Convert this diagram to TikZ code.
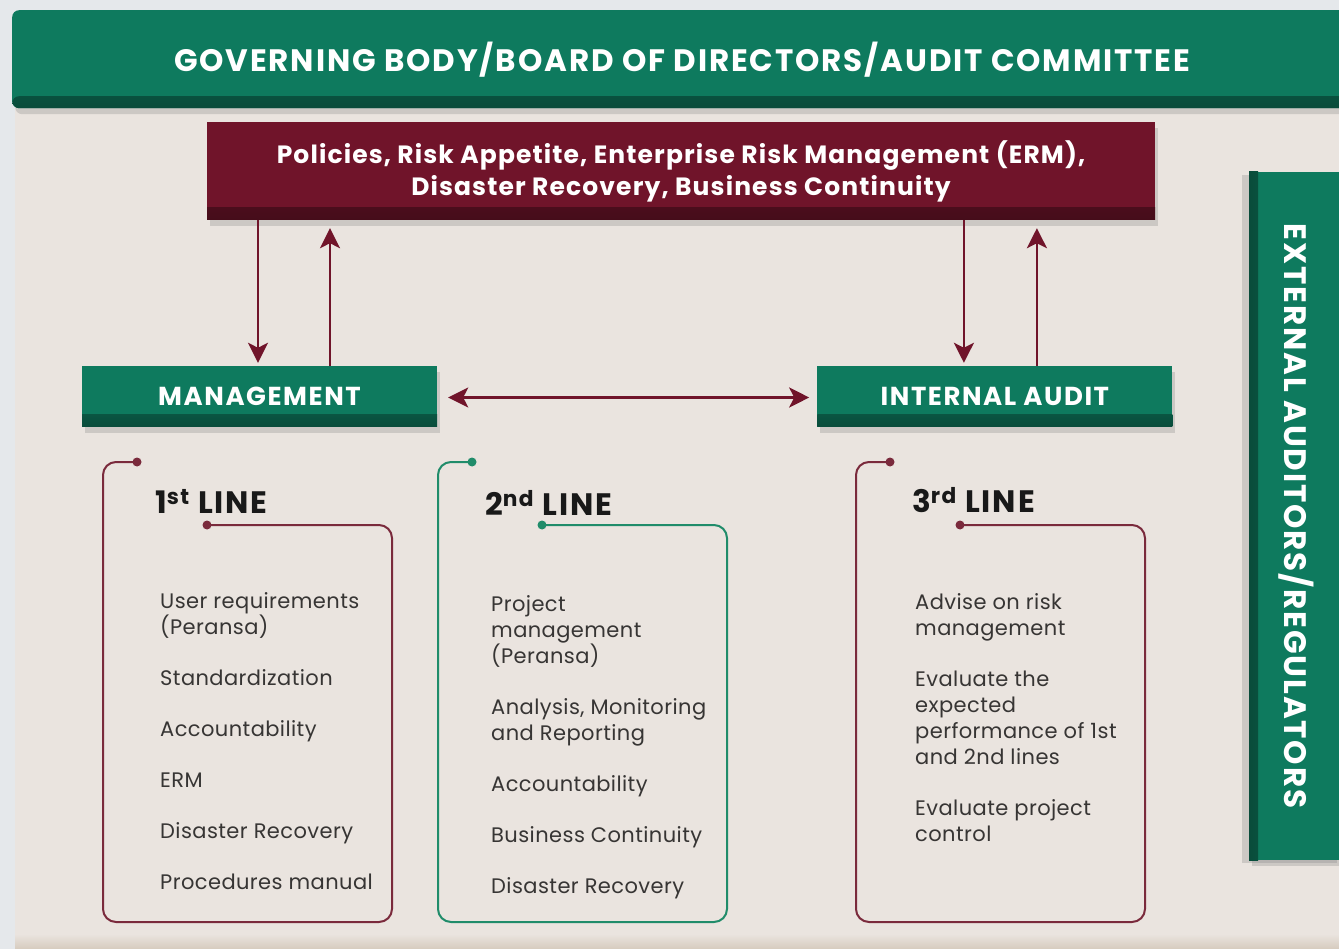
\documentclass[tikz,border=0pt]{standalone}
\usepackage{fontspec}
\setmainfont{Poppins}
\newfontfamily\capsfont[LetterSpace=6]{Poppins}
\newfontfamily\policyfont[LetterSpace=4.5]{Poppins}
\newfontfamily\bodyfont[LetterSpace=2]{Poppins}
\usetikzlibrary{arrows.meta,positioning,shadows}
\definecolor{bankgreen}{RGB}{14,122,94}
\definecolor{wine}{RGB}{112,20,42}
\definecolor{paper}{RGB}{234,228,223}
\definecolor{mist}{RGB}{229,232,235}
\definecolor{sand}{RGB}{214,203,190}
\definecolor{linered}{RGB}{122,42,60}
\definecolor{linegreen}{RGB}{32,140,106}
\definecolor{ink}{RGB}{55,53,52}

\begin{document}
\begin{tikzpicture}[
  x=1pt,y=-1pt,
  >={Stealth[length=20pt,width=20pt,inset=5pt]},
  bevel/.style={path picture={\shade[top color=#1,bottom color=#1!62!black]
      ([yshift=12pt]path picture bounding box.south west) rectangle (path picture bounding box.south east);}},
  sidebevel/.style={path picture={\shade[left color=#1!62!black,right color=#1]
      (path picture bounding box.south west) rectangle ([xshift=9pt]path picture bounding box.north west);}},
  shade3d/.style={drop shadow={opacity=.28,shadow xshift=3pt,shadow yshift=-6pt}},
  bar/.style={fill=bankgreen,bevel=bankgreen,shade3d,text=white,inner sep=0pt,
    font=\capsfont\bfseries\fontsize{31}{34}\selectfont},
  unit/.style={bar,minimum width=355pt,minimum height=61pt,font=\capsfont\bfseries\fontsize{26}{28}\selectfont},
  policy/.style={fill=wine,bevel=wine,shade3d,text=white,align=center,inner sep=0pt,
    font=\policyfont\bfseries\fontsize{25}{32}\selectfont},
  linehead/.style={anchor=west,inner sep=0pt,text=black!90,font=\capsfont\bfseries\fontsize{31}{34}\selectfont},
  items/.style={anchor=north west,align=left,inner sep=0pt,text=ink,font=\bodyfont\fontsize{21}{26}\selectfont},
  frame/.style={line width=2pt,rounded corners=13pt},
  arr/.style={->,draw=wine,line width=2.8pt}
]
\useasboundingbox (0,0) rectangle (1339,949);
\clip (0,0) rectangle (1339,949);

% ---- backdrop
\fill[mist] (0,0) rectangle (1339,949);
\fill[paper] (15,100) rectangle (1339,949);
\shade[top color=paper,bottom color=sand] (15,934) rectangle (1339,949);

% ---- top banner and policy block
\node[bar,rounded corners=7pt,minimum width=1340pt,minimum height=98pt,anchor=north west] (gov) at (12,10)
  {GOVERNING BODY/BOARD OF DIRECTORS/AUDIT COMMITTEE};
\node[policy,minimum width=948pt,minimum height=98pt] (pol) at (681,171)
  {Policies, Risk Appetite, Enterprise Risk Management (ERM),\\Disaster Recovery, Business Continuity};

% ---- management / internal audit
\node[unit] (mgmt) at (259.5,396.5) {MANAGEMENT};
\node[unit,right=380pt of mgmt] (ia) {INTERNAL AUDIT};

% ---- external side bar (text turned, box upright)
\node[bar,bevel/.style={},sidebevel=bankgreen,drop shadow={opacity=.28,shadow xshift=-7pt,shadow yshift=-3pt},
  minimum width=95pt,minimum height=688pt] (ext) at (1296.5,516)
  {\rotatebox{-90}{EXTERNAL AUDITORS/REGULATORS}};

% ---- arrows
\coordinate (mg-dn) at ([xshift=-1.5pt]mgmt.north);
\coordinate (mg-up) at ([xshift=70.5pt]mgmt.north);
\coordinate (ia-dn) at ([xshift=-31pt]ia.north);
\coordinate (ia-up) at ([xshift=42pt]ia.north);
\draw[arr,shorten >=3pt] (mg-dn |- pol.south) -- (mg-dn);
\draw[arr,shorten >=8pt] (mg-up) -- (mg-up |- pol.south);
\draw[arr,shorten >=3pt] (ia-dn |- pol.south) -- (ia-dn);
\draw[arr,shorten >=8pt] (ia-up) -- (ia-up |- pol.south);
\draw[arr,<->,shorten <=11pt,shorten >=8pt] ([yshift=-1pt]mgmt.east) -- ([yshift=-1pt]mgmt.east -| ia.west);

% ---- the three line frames
\foreach \xa/\xb/\col in {103/392/linered,438/727/linegreen,856/1145/linered}{
  \draw[frame,draw=\col] (\xa+34,462) -- (\xa,462) -- (\xa,922) -- (\xb,922) -- (\xb,525) -- (\xa+104,525);
  \fill[\col] (\xa+34,462) circle (4.5pt) (\xa+104,525) circle (4.5pt);
}

\node[linehead] (h1) at (155,501) {1\textsuperscript{st} LINE};
\node[linehead] (h2) at (485,503) {2\textsuperscript{nd} LINE};
\node[linehead] (h3) at (912,500) {3\textsuperscript{rd} LINE};

\node[items] (l1) at (160,592) {User requirements\\(Peransa)\\[25pt]Standardization\\[25pt]Accountability\\[25pt]ERM\\[25pt]Disaster Recovery\\[25pt]Procedures manual};
\node[items] (l2) at (491,595) {Project\\management\\(Peransa)\\[25pt]Analysis, Monitoring\\and Reporting\\[25pt]Accountability\\[25pt]Business Continuity\\[25pt]Disaster Recovery};
\node[items] (l3) at (915,593) {Advise on risk\\management\\[25pt]Evaluate the\\expected\\performance of 1st\\and 2nd lines\\[25pt]Evaluate project\\control};
\end{tikzpicture}
\end{document}
